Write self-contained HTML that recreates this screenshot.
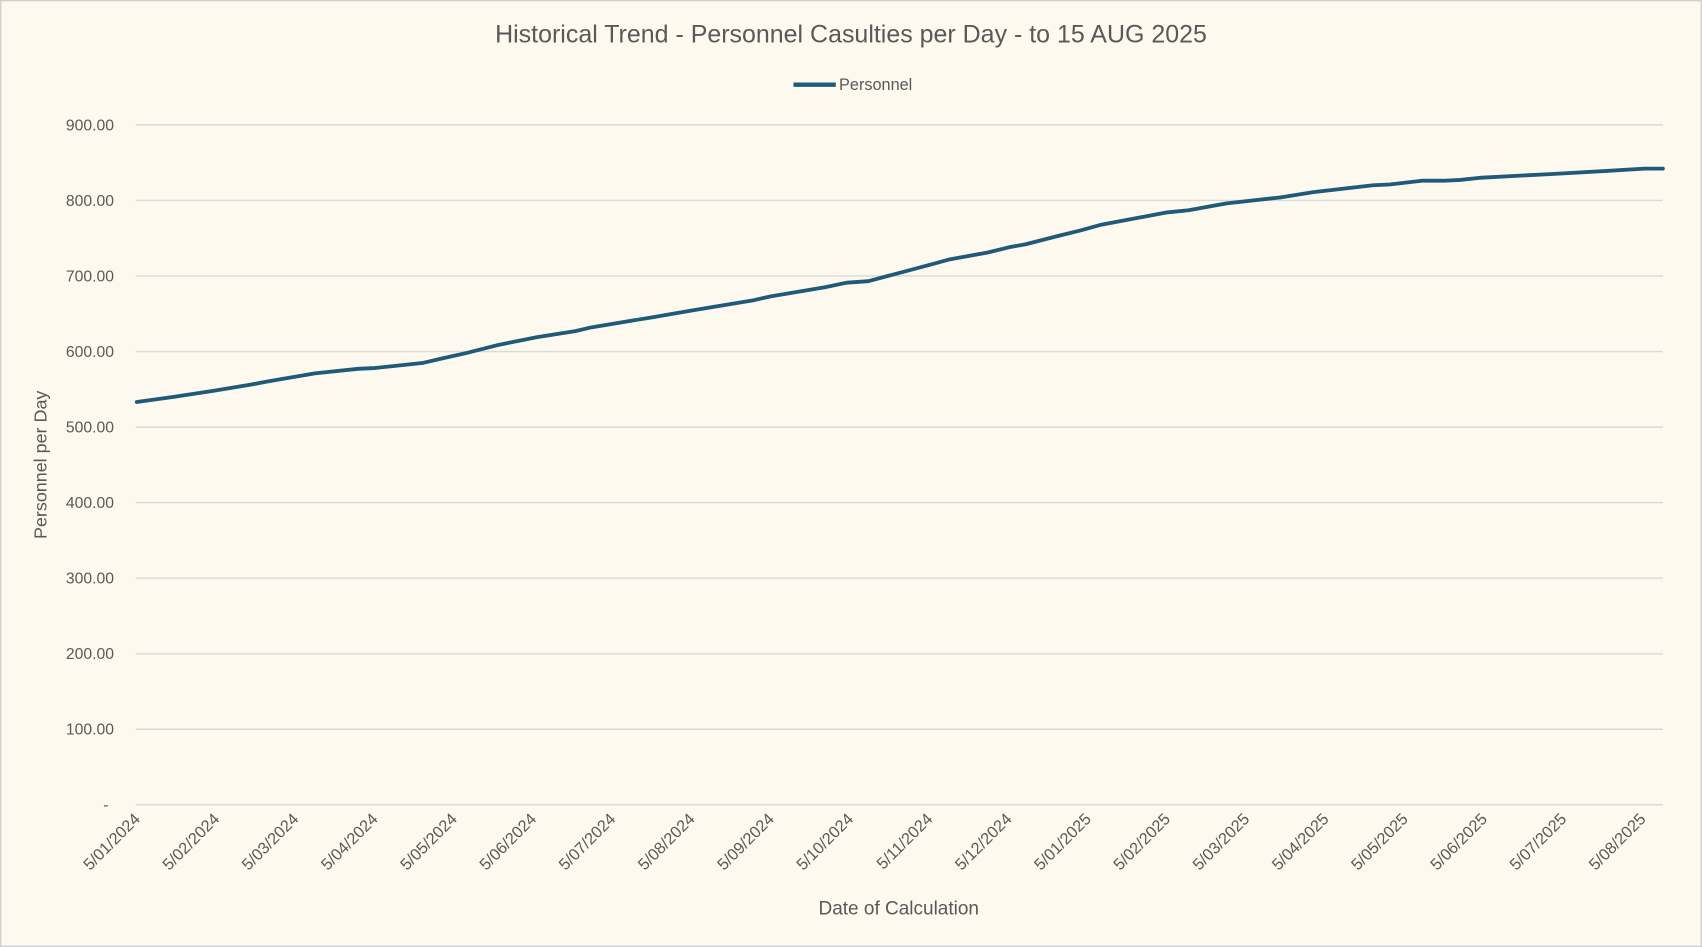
<!DOCTYPE html>
<html><head><style>html,body{margin:0;padding:0;background:#fdf9ef;}svg{display:block}</style></head>
<body>
<svg width="1702" height="947" viewBox="0 0 1568 872" preserveAspectRatio="none" xmlns="http://www.w3.org/2000/svg" font-family="Liberation Sans, sans-serif">
<rect x="0.5" y="0.5" width="1567" height="871" fill="#fdf9ef" stroke="#d0d0d0" stroke-width="1.5"/>
<text x="784" y="39" text-anchor="middle" font-size="23" fill="#595959">Historical Trend - Personnel Casulties per Day - to 15 AUG 2025</text>
<line x1="731" y1="78" x2="770" y2="78" stroke="#1f5a78" stroke-width="4"/>
<text x="773" y="83" font-size="15" fill="#595959">Personnel</text>
<g stroke="#d9d9d9" stroke-width="1.3">
<line x1="125" x2="1532" y1="115" y2="115"/><line x1="125" x2="1532" y1="184.6" y2="184.6"/>
<line x1="125" x2="1532" y1="254.1" y2="254.1"/><line x1="125" x2="1532" y1="323.7" y2="323.7"/>
<line x1="125" x2="1532" y1="393.3" y2="393.3"/><line x1="125" x2="1532" y1="462.8" y2="462.8"/>
<line x1="125" x2="1532" y1="532.4" y2="532.4"/><line x1="125" x2="1532" y1="602" y2="602"/>
<line x1="125" x2="1532" y1="671.5" y2="671.5"/><line x1="125" x2="1532" y1="741" y2="741"/>
</g>
<g font-size="14.5" fill="#595959" text-anchor="end">
<text x="105" y="120">900.00</text><text x="105" y="189.6">800.00</text><text x="105" y="259.1">700.00</text>
<text x="105" y="328.7">600.00</text><text x="105" y="398.3">500.00</text><text x="105" y="467.8">400.00</text>
<text x="105" y="537.4">300.00</text><text x="105" y="607">200.00</text><text x="105" y="676.5">100.00</text>
<text x="100" y="746">-</text>
</g>
<text transform="translate(43,428) rotate(-90)" text-anchor="middle" font-size="16.5" fill="#595959">Personnel per Day</text>
<text x="828" y="842" text-anchor="middle" font-size="17.5" fill="#595959">Date of Calculation</text>
<g font-size="15" fill="#595959" text-anchor="end">
<text transform="translate(130,755) rotate(-45)">5/01/2024</text>
<text transform="translate(203,755) rotate(-45)">5/02/2024</text>
<text transform="translate(276,755) rotate(-45)">5/03/2024</text>
<text transform="translate(349,755) rotate(-45)">5/04/2024</text>
<text transform="translate(422,755) rotate(-45)">5/05/2024</text>
<text transform="translate(495,755) rotate(-45)">5/06/2024</text>
<text transform="translate(568,755) rotate(-45)">5/07/2024</text>
<text transform="translate(641,755) rotate(-45)">5/08/2024</text>
<text transform="translate(714,755) rotate(-45)">5/09/2024</text>
<text transform="translate(787,755) rotate(-45)">5/10/2024</text>
<text transform="translate(860,755) rotate(-45)">5/11/2024</text>
<text transform="translate(933,755) rotate(-45)">5/12/2024</text>
<text transform="translate(1006,755) rotate(-45)">5/01/2025</text>
<text transform="translate(1079,755) rotate(-45)">5/02/2025</text>
<text transform="translate(1152,755) rotate(-45)">5/03/2025</text>
<text transform="translate(1225,755) rotate(-45)">5/04/2025</text>
<text transform="translate(1298,755) rotate(-45)">5/05/2025</text>
<text transform="translate(1371,755) rotate(-45)">5/06/2025</text>
<text transform="translate(1444,755) rotate(-45)">5/07/2025</text>
<text transform="translate(1517,755) rotate(-45)">5/08/2025</text>
</g>
<polyline fill="none" stroke="#1f5a78" stroke-width="3.5" stroke-linejoin="round" stroke-linecap="round" points="126,370.2 160,365.4 197,359.8 231,354.2 245,351.5 290,343.8 330,339.6 345,338.9 390,334.1 405,330.6 430,325 460,317.4 495,310.4 530,304.9 545,301.4 600,292.3 640,285.4 695,276.3 710,272.9 760,264.5 780,260.3 800,258.9 860,242.9 875,238.8 910,232.5 930,227.6 945,224.9 975,217.2 995,212.3 1015,206.8 1045,201.2 1075,195.6 1095,193.6 1130,187.3 1180,181.7 1210,176.9 1265,170.6 1280,169.9 1310,166.4 1330,166.4 1345,165.7 1365,163.6 1430,160.2 1480,157.4 1515,155.3 1532,155.3"/>
</svg>
</body></html>
